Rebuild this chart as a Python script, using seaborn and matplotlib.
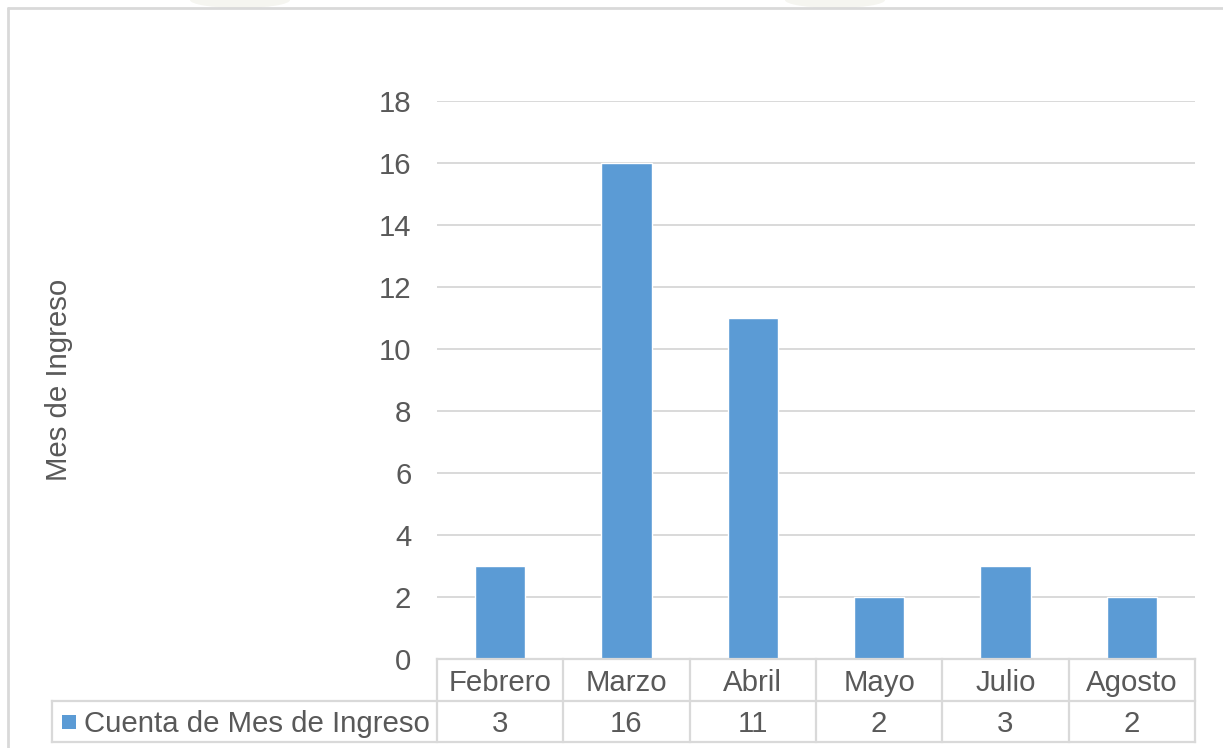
import matplotlib
matplotlib.use("Agg")
import matplotlib.pyplot as plt
import seaborn as sns
import pandas as pd
from matplotlib.lines import Line2D
from matplotlib.patches import Rectangle, Ellipse

# Data
meses = ["Febrero", "Marzo", "Abril", "Mayo", "Julio", "Agosto"]
cuentas = [3, 16, 11, 2, 3, 2]
serie = "Cuenta de Mes de Ingreso"
eje_y = "Mes de Ingreso"
y_ticks = [0, 2, 4, 6, 8, 10, 12, 14, 16, 18]

BAR = "#5B9BD5"
GRID = "#D9D9D9"
TXT = "#595959"
FS = 21.2

sns.set_theme(style="white")
plt.rcParams["font.family"] = ["Liberation Sans", "DejaVu Sans"]

W, H = 1223, 748
fig = plt.figure(figsize=(W / 100, H / 100), dpi=100)

def fx(px):
    return px / W

def fy(py):
    return 1 - py / H

# faint background ornaments peeking above the chart frame
for cx in (240, 835):
    fig.add_artist(Ellipse((fx(cx), fy(0)), fx(100), 16 / H,
                           transform=fig.transFigure, facecolor="#E9E9DE",
                           edgecolor="none", alpha=0.45, zorder=0))

# plot area in pixels
L, R, T, B = 437, 1195, 101, 659
ax = fig.add_axes([fx(L), fy(B), fx(R - L), fy(T) - fy(B)])

df = pd.DataFrame({"mes": meses, "cuenta": cuentas})
sns.barplot(data=df, x="mes", y="cuenta", color=BAR, width=0.4,
            saturation=1, ax=ax, zorder=3)

ax.set_xlim(-0.5, len(meses) - 0.5)
ax.set_ylim(0, 18)
ax.set_yticks(y_ticks)
ax.set_yticklabels([str(v) for v in y_ticks], fontsize=FS, color=TXT)
ax.tick_params(axis="y", length=0, pad=18.5)
ax.set_xticks([])
ax.set_xlabel("")
for s in ax.spines.values():
    s.set_visible(False)
ax.yaxis.grid(True, color=GRID, linewidth=1.4, zorder=0)
ax.set_axisbelow(True)

ax.set_ylabel(eje_y, fontsize=FS, color=TXT)
ax.yaxis.set_label_coords((73 - L) / (R - L), 0.5)

# data table drawn in an axes that shares the category scale
col_w = (R - L) / len(meses)
TL, TB = 52, 742
extra = (L - TL) / col_w
tax = fig.add_axes([fx(TL), fy(TB), fx(R - TL), fy(B) - fy(TB)])
tax.set_xlim(-0.5 - extra, len(meses) - 0.5)
tax.set_ylim(0, 2)
tax.axis("off")
mid_row = (TB - 701) / (TB - B) * 2  # row divider in table units

lw = 1.6
kw = dict(color=GRID, linewidth=lw, solid_capstyle="projecting", clip_on=False)
left_edge = -0.5 - extra
right_edge = len(meses) - 0.5
tax.add_line(Line2D([-0.5, right_edge], [2, 2], **kw))
tax.add_line(Line2D([left_edge, right_edge], [mid_row, mid_row], **kw))
tax.add_line(Line2D([left_edge, right_edge], [0, 0], **kw))
tax.add_line(Line2D([left_edge, left_edge], [0, mid_row], **kw))
for i in range(len(meses) + 1):
    xb = i - 0.5
    tax.add_line(Line2D([xb, xb], [0, 2], **kw))

for i, (m, c) in enumerate(zip(meses, cuentas)):
    tax.text(i, (2 + mid_row) / 2, m, ha="center", va="center_baseline",
             fontsize=FS, color=TXT)
    tax.text(i, mid_row / 2, str(c), ha="center", va="center_baseline",
             fontsize=FS, color=TXT)

# legend key and series name in the first column
sq_h = 14 / (TB - B) * 2
tax.add_patch(Rectangle((left_edge + 10 / col_w, mid_row / 2 - sq_h / 2),
                        14 / col_w, sq_h,
                        facecolor=BAR, edgecolor="none", clip_on=False))
tax.text(left_edge + 32 / col_w, mid_row / 2, serie, ha="left",
         va="center_baseline", fontsize=FS, color=TXT)

# chart frame (top and left)
fig.add_artist(Line2D([fx(7.5), 1], [fy(7.5), fy(7.5)], color=GRID, linewidth=2,
                      transform=fig.transFigure))
fig.add_artist(Line2D([fx(7.5), fx(7.5)], [fy(7.5), 0], color=GRID, linewidth=2,
                      transform=fig.transFigure))

fig.savefig("out.png", dpi=100, facecolor="white")
